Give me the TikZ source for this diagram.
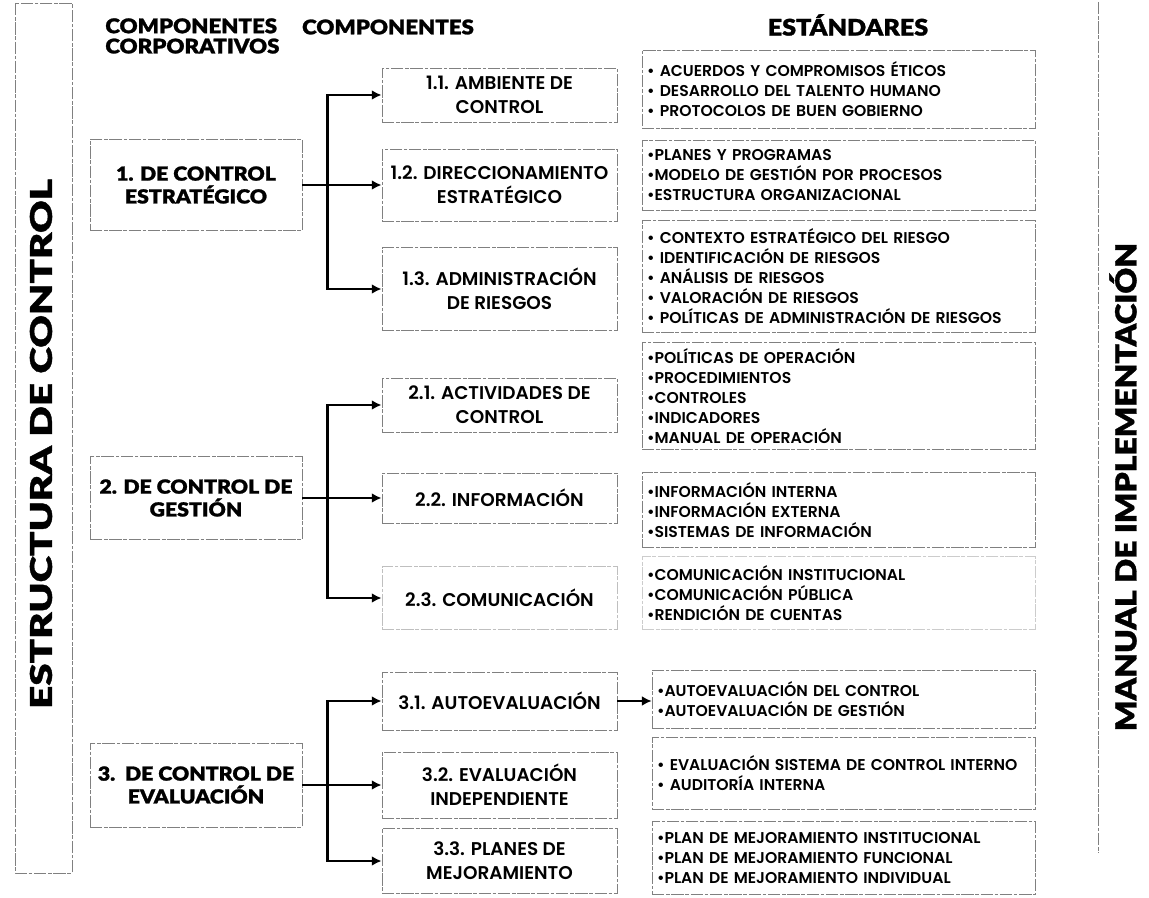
\documentclass[tikz,border=0pt]{standalone}
\usepackage{fontspec}
\setmainfont{Poppins}
\newfontfamily\gothic{Poppins SemiBold}
\newfontfamily\heavy{Lato Black}[FakeStretch=1.1, FakeBold=1.2]
\newfontfamily\heavywide{Lato Black}[FakeStretch=1.35, FakeBold=1.2]
\usetikzlibrary{arrows.meta}

\tikzset{
  frame/.style={draw=black!50, line width=.5pt, dash pattern=on 7pt off 1pt on 2pt off 1pt},
  corpbox/.style={frame, minimum width=4.24cm, align=center, inner sep=2pt,
    font=\heavy\fontsize{11}{13}\selectfont},
  compbox/.style={frame, minimum width=4.7cm, align=center, inner sep=2pt,
    font=\gothic\fontsize{10.5}{13.5}\selectfont},
  stdbox/.style={frame, text width=7.66cm, align=left, inner xsep=.1cm, inner ysep=2pt,
    font=\gothic\fontsize{8.9}{11.3}\selectfont},
  head/.style={inner sep=0pt, font=\heavy\fontsize{11.5}{11.5}\selectfont},
  sidetext/.style={inner sep=0pt, rotate=90, font=\heavywide\fontsize{17}{17}\selectfont},
  arr/.style={-{Latex[length=5.5pt,width=5.5pt]}, line width=1.4pt},
}

\begin{document}
\begin{tikzpicture}[x=.02cm, y=-.02cm]
  \useasboundingbox (0,0) rectangle (1149,898);

  % barras laterales
  \draw[frame] (15,3) rectangle (72,873);
  \node[sidetext] (estructura) at (41,444) {ESTRUCTURA DE CONTROL};
  \draw[frame] (1098,2) -- (1098,853);
  \node[sidetext, font=\heavy\fontsize{16.5}{17}\selectfont] (manual) at (1123,487) {MANUAL DE IMPLEMENTACIÓN};

  % encabezados
  \node[head, align=left, anchor=north west] (hcorp) at (105,18) {COMPONENTES\\CORPORATIVOS};
  \node[head] (hcomp) at (388,27) {COMPONENTES};
  \node[head, font=\heavy\fontsize{13}{13}\selectfont] (hstd) at (848,25) {ESTÁNDARES};

  % componentes corporativos
  \node[corpbox, minimum height=1.82cm] (c1) at (196,185) {1. DE CONTROL\\ESTRATÉGICO};
  \node[corpbox, minimum height=1.66cm] (c2) at (196,498) {2. DE CONTROL DE\\GESTIÓN};
  \node[corpbox, minimum height=1.68cm] (c3) at (196,785) {3.\ \ DE CONTROL DE\\EVALUACIÓN};

  % componentes
  \node[compbox, minimum height=1.08cm] (k11) at (499.5,95) {1.1. AMBIENTE DE\\CONTROL};
  \node[compbox, minimum height=1.44cm] (k12) at (499.5,185) {1.2. DIRECCIONAMIENTO\\ESTRATÉGICO};
  \node[compbox, minimum height=1.66cm] (k13) at (499.5,289) {1.3. ADMINISTRACIÓN\\DE RIESGOS};
  \node[compbox, minimum height=1.08cm] (k21) at (499.5,405) {2.1. ACTIVIDADES DE\\CONTROL};
  \node[compbox, minimum height=1.0cm] (k22) at (499.5,498) {2.2. INFORMACIÓN};
  \node[compbox, minimum height=1.26cm, draw=black!25] (k23) at (499.5,598) {2.3. COMUNICACIÓN};
  \node[compbox, minimum height=1.16cm] (k31) at (499.5,701) {3.1. AUTOEVALUACIÓN};
  \node[compbox, minimum height=1.32cm] (k32) at (499.5,785) {3.2. EVALUACIÓN\\INDEPENDIENTE};
  \node[compbox, minimum height=1.3cm] (k33) at (499.5,861) {3.3. PLANES DE\\MEJORAMIENTO};

  % estandares
  \node[stdbox, minimum height=1.56cm] (s11) at (838.5,89) {• ACUERDOS Y COMPROMISOS ÉTICOS\\• DESARROLLO DEL TALENTO HUMANO\\• PROTOCOLOS DE BUEN GOBIERNO};
  \node[stdbox, minimum height=1.4cm] (s12) at (838.5,175) {•PLANES Y PROGRAMAS\\•MODELO DE GESTIÓN POR PROCESOS\\•ESTRUCTURA ORGANIZACIONAL};
  \node[stdbox, minimum height=2.24cm] (s13) at (838.5,276) {• CONTEXTO ESTRATÉGICO DEL RIESGO\\• IDENTIFICACIÓN DE RIESGOS\\• ANÁLISIS DE RIESGOS\\• VALORACIÓN DE RIESGOS\\• POLÍTICAS DE ADMINISTRACIÓN DE RIESGOS};
  \node[stdbox, minimum height=2.14cm] (s21) at (838.5,396) {•POLÍTICAS DE OPERACIÓN\\•PROCEDIMIENTOS\\•CONTROLES\\•INDICADORES\\•MANUAL DE OPERACIÓN};
  \node[stdbox, minimum height=1.5cm] (s22) at (838.5,510) {•INFORMACIÓN INTERNA\\•INFORMACIÓN EXTERNA\\•SISTEMAS DE INFORMACIÓN};
  \node[stdbox, minimum height=1.46cm, draw=black!20] (s23) at (838.5,593) {•COMUNICACIÓN INSTITUCIONAL\\•COMUNICACIÓN PÚBLICA\\•RENDICIÓN DE CUENTAS};
  \node[stdbox, text width=7.46cm, minimum height=1.16cm] (s31) at (843.5,699) {•AUTOEVALUACIÓN DEL CONTROL\\•AUTOEVALUACIÓN DE GESTIÓN};
  \node[stdbox, text width=7.46cm, minimum height=1.44cm] (s32) at (843.5,773) {• EVALUACIÓN SISTEMA DE CONTROL INTERNO\\• AUDITORÍA INTERNA};
  \node[stdbox, text width=7.46cm, minimum height=1.46cm] (s33) at (843.5,858) {•PLAN DE MEJORAMIENTO INSTITUCIONAL\\•PLAN DE MEJORAMIENTO FUNCIONAL\\•PLAN DE MEJORAMIENTO INDIVIDUAL};

  % conectores
  \draw[arr] (c1.east) -- (k12.west);
  \draw[arr] (c1.east) ++(25,0) |- (k11.west);
  \draw[arr] (c1.east) ++(25,0) |- (k13.west);
  \draw[arr] (c2.east) -- (k22.west);
  \draw[arr] (c2.east) ++(25,0) |- (k21.west);
  \draw[arr] (c2.east) ++(25,0) |- (k23.west);
  \draw[arr] (c3.east) -- (k32.west);
  \draw[arr] (c3.east) ++(25,0) |- (k31.west);
  \draw[arr] (c3.east) ++(25,0) |- (k33.west);
  \draw[arr, line width=.9pt] (k31.east) -- (k31.east -| s31.west);
\end{tikzpicture}
\end{document}
